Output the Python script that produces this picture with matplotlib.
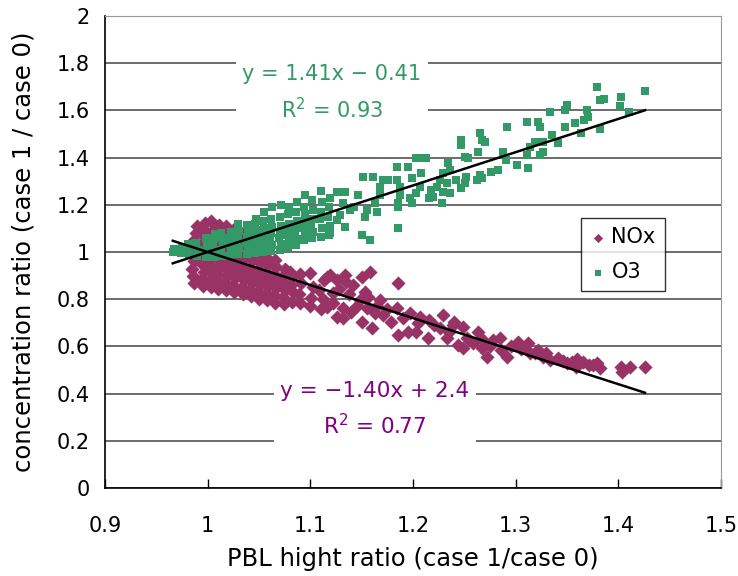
import matplotlib
matplotlib.use("Agg")
import matplotlib.pyplot as plt

# NOx points (PBL height ratio, concentration ratio)
nox_pts = [
    (0.987, 0.870), (0.986, 0.900), (0.985, 0.930), (0.987, 0.960), (0.986, 0.990),
    (0.988, 1.020), (0.987, 1.050), (0.989, 1.080), (0.990, 1.110),
    (0.995, 0.855), (0.994, 0.885), (0.996, 0.915), (0.995, 0.945), (0.994, 0.975),
    (0.996, 1.005), (0.995, 1.035), (0.997, 1.065), (0.996, 1.095), (0.997, 1.125),
    (1.003, 0.850), (1.002, 0.880), (1.004, 0.910), (1.003, 0.940), (1.002, 0.970),
    (1.004, 1.000), (1.003, 1.030), (1.002, 1.060), (1.004, 1.090), (1.003, 1.130),
    (1.010, 0.845), (1.011, 0.875), (1.009, 0.905), (1.010, 0.935), (1.011, 0.965),
    (1.010, 0.995), (1.009, 1.025), (1.011, 1.055), (1.010, 1.085), (1.011, 1.115),
    (1.018, 0.838), (1.017, 0.868), (1.019, 0.898), (1.018, 0.928), (1.017, 0.958),
    (1.019, 0.988), (1.018, 1.018), (1.017, 1.048), (1.019, 1.078), (1.018, 1.110),
    (1.026, 0.830), (1.025, 0.860), (1.027, 0.890), (1.026, 0.920), (1.025, 0.950),
    (1.027, 0.980), (1.026, 1.010), (1.025, 1.040), (1.027, 1.070), (1.026, 1.098),
    (1.034, 0.822), (1.033, 0.852), (1.035, 0.882), (1.034, 0.912), (1.033, 0.942),
    (1.035, 0.972), (1.034, 1.002), (1.033, 1.032), (1.035, 1.075),
    (1.042, 0.814), (1.041, 0.844), (1.043, 0.874), (1.042, 0.904), (1.041, 0.934),
    (1.043, 0.964), (1.042, 0.994), (1.041, 1.060),
    (1.050, 0.802), (1.049, 0.832), (1.051, 0.862), (1.050, 0.892), (1.049, 0.922),
    (1.051, 0.952), (1.050, 0.982),
    (1.058, 0.796), (1.057, 0.826), (1.059, 0.856), (1.058, 0.886), (1.057, 0.916),
    (1.059, 0.946), (1.058, 0.976),
    (1.066, 0.786), (1.065, 0.816), (1.067, 0.846), (1.066, 0.876), (1.065, 0.906),
    (1.067, 0.936), (1.066, 0.966),
    (1.074, 0.780), (1.073, 0.810), (1.075, 0.840), (1.074, 0.870), (1.073, 0.900),
    (1.075, 0.930),
    (1.082, 0.790), (1.083, 0.830), (1.081, 0.860), (1.082, 0.895), (1.080, 0.917),
    (1.090, 0.782), (1.089, 0.820), (1.091, 0.868), (1.090, 0.905),
    (1.100, 0.770), (1.101, 0.805), (1.103, 0.853), (1.100, 0.910),
    (1.110, 0.760), (1.112, 0.800), (1.108, 0.840), (1.113, 0.880),
    (1.116, 0.768), (1.116, 0.895), (1.122, 0.825), (1.126, 0.726),
    (1.119, 0.903), (1.134, 0.903), (1.126, 0.881), (1.135, 0.874), (1.150, 0.895),
    (1.158, 0.917), (1.185, 0.868), (1.122, 0.782), (1.132, 0.761), (1.132, 0.720),
    (1.140, 0.745), (1.148, 0.797), (1.156, 0.811), (1.168, 0.797), (1.155, 0.761),
    (1.150, 0.705), (1.160, 0.677), (1.163, 0.741), (1.171, 0.733), (1.179, 0.705),
    (1.184, 0.761), (1.185, 0.648), (1.197, 0.741), (1.195, 0.662), (1.207, 0.726),
    (1.203, 0.662), (1.215, 0.636), (1.216, 0.712), (1.229, 0.733), (1.226, 0.677),
    (1.233, 0.636), (1.239, 0.691), (1.249, 0.684), (1.244, 0.606), (1.249, 0.593),
    (1.253, 0.636), (1.263, 0.662), (1.268, 0.627), (1.267, 0.593), (1.272, 0.556),
    (1.278, 0.627), (1.285, 0.636), (1.286, 0.585), (1.292, 0.556), (1.302, 0.620),
    (1.312, 0.614), (1.314, 0.572), (1.322, 0.585), (1.327, 0.556), (1.333, 0.542),
    (1.341, 0.551), (1.350, 0.530), (1.359, 0.514), (1.366, 0.535), (1.379, 0.530),
    (1.382, 0.508), (1.403, 0.514), (1.404, 0.493), (1.411, 0.514), (1.426, 0.514),
    (1.319, 0.572), (1.346, 0.540), (1.371, 0.520),
    (1.128, 0.845), (1.138, 0.820), (1.145, 0.770), (1.142, 0.860), (1.153, 0.830),
    (1.165, 0.770), (1.175, 0.760), (1.190, 0.720), (1.205, 0.700), (1.220, 0.690),
    (1.235, 0.660), (1.240, 0.705), (1.258, 0.615), (1.275, 0.600), (1.295, 0.600),
    (1.305, 0.590), (1.330, 0.570), (1.355, 0.535), (1.360, 0.545), (1.375, 0.520),
]

# O3 points
o3_pts = [
    (0.966, 1.000), (0.967, 1.012), (0.974, 0.995), (0.975, 1.015),
    (0.982, 0.990), (0.983, 1.020), (0.981, 1.035),
    (0.990, 0.985), (0.991, 1.010), (0.989, 1.040),
    (0.998, 0.980), (0.997, 1.005), (0.999, 1.030), (0.998, 1.060),
    (1.006, 0.980), (1.007, 1.005), (1.005, 1.030), (1.006, 1.055), (1.007, 1.075),
    (1.014, 0.985), (1.013, 1.010), (1.015, 1.035), (1.014, 1.060), (1.013, 1.080),
    (1.022, 0.985), (1.023, 1.010), (1.021, 1.035), (1.022, 1.060), (1.023, 1.085),
    (1.030, 0.990), (1.031, 1.015), (1.029, 1.040), (1.030, 1.065), (1.031, 1.090),
    (1.030, 1.120),
    (1.038, 0.990), (1.039, 1.015), (1.037, 1.040), (1.038, 1.065), (1.039, 1.090),
    (1.038, 1.115),
    (1.046, 0.995), (1.047, 1.020), (1.045, 1.045), (1.046, 1.070), (1.047, 1.095),
    (1.046, 1.120), (1.047, 1.140),
    (1.054, 1.000), (1.055, 1.025), (1.053, 1.050), (1.054, 1.075), (1.055, 1.100),
    (1.054, 1.130), (1.055, 1.170),
    (1.062, 1.005), (1.063, 1.030), (1.061, 1.055), (1.062, 1.080), (1.063, 1.105),
    (1.062, 1.140), (1.063, 1.190),
    (1.070, 1.010), (1.071, 1.035), (1.069, 1.060), (1.070, 1.085), (1.071, 1.110),
    (1.070, 1.150), (1.071, 1.200),
    (1.078, 1.020), (1.079, 1.045), (1.077, 1.070), (1.078, 1.095), (1.079, 1.120),
    (1.078, 1.160), (1.079, 1.190),
    (1.086, 1.030), (1.087, 1.055), (1.085, 1.080), (1.086, 1.105), (1.087, 1.130),
    (1.086, 1.170), (1.087, 1.210),
    (1.094, 1.050), (1.095, 1.075), (1.093, 1.100), (1.094, 1.130), (1.095, 1.160),
    (1.094, 1.190), (1.095, 1.240),
    (1.102, 1.060), (1.103, 1.085), (1.101, 1.110), (1.102, 1.140), (1.103, 1.180),
    (1.102, 1.220),
    (1.110, 1.065), (1.111, 1.100), (1.109, 1.140), (1.110, 1.170), (1.111, 1.210),
    (1.110, 1.260),
    (1.118, 1.070), (1.119, 1.110), (1.117, 1.150), (1.118, 1.190), (1.119, 1.230),
    (1.119, 1.081), (1.126, 1.256), (1.134, 1.256), (1.129, 1.157), (1.126, 1.136),
    (1.134, 1.107), (1.150, 1.072), (1.158, 1.051), (1.132, 1.208), (1.139, 1.178),
    (1.143, 1.192), (1.146, 1.242), (1.153, 1.150), (1.155, 1.178), (1.165, 1.171),
    (1.163, 1.208), (1.168, 1.242), (1.151, 1.319), (1.161, 1.319), (1.168, 1.277),
    (1.171, 1.305), (1.176, 1.305), (1.185, 1.102), (1.185, 1.192), (1.185, 1.208),
    (1.199, 1.208), (1.197, 1.229), (1.187, 1.242), (1.187, 1.277), (1.184, 1.305),
    (1.184, 1.362), (1.195, 1.362), (1.203, 1.250), (1.207, 1.277), (1.199, 1.313),
    (1.208, 1.335), (1.203, 1.398), (1.208, 1.398), (1.213, 1.398), (1.216, 1.229),
    (1.228, 1.208), (1.219, 1.234), (1.218, 1.263), (1.223, 1.277), (1.229, 1.256),
    (1.236, 1.250), (1.233, 1.292), (1.226, 1.305), (1.229, 1.335), (1.236, 1.347),
    (1.234, 1.377), (1.242, 1.305), (1.247, 1.271), (1.251, 1.292), (1.252, 1.319),
    (1.262, 1.305), (1.267, 1.313), (1.265, 1.326), (1.254, 1.398), (1.251, 1.404),
    (1.247, 1.453), (1.247, 1.475), (1.263, 1.425), (1.270, 1.468), (1.265, 1.504),
    (1.267, 1.475), (1.276, 1.340), (1.283, 1.347), (1.288, 1.425), (1.291, 1.390),
    (1.301, 1.369), (1.312, 1.356), (1.311, 1.411), (1.324, 1.411), (1.327, 1.425),
    (1.314, 1.446), (1.319, 1.468), (1.327, 1.468), (1.341, 1.462), (1.335, 1.496),
    (1.292, 1.531), (1.311, 1.552), (1.324, 1.531), (1.322, 1.552), (1.364, 1.504),
    (1.382, 1.521), (1.358, 1.546), (1.348, 1.531), (1.367, 1.559), (1.370, 1.573),
    (1.369, 1.602), (1.333, 1.593), (1.348, 1.602), (1.350, 1.623), (1.410, 1.595),
    (1.402, 1.619), (1.403, 1.658), (1.382, 1.644), (1.386, 1.648), (1.379, 1.700),
    (1.426, 1.682),
]

nox_x = [p[0] for p in nox_pts]
nox_y = [p[1] for p in nox_pts]
o3_x = [p[0] for p in o3_pts]
o3_y = [p[1] for p in o3_pts]

# linear trendlines as shown on the chart
o3_slope, o3_icpt = 1.41, -0.41
nox_slope, nox_icpt = -1.40, 2.40
o3_label = "y = 1.41x \u2212 0.41\nR$^2$ = 0.93"
nox_label = "y = \u22121.40x + 2.4\nR$^2$ = 0.77"

nox_col = "#993366"
o3_col = "#339966"

fig = plt.figure(figsize=(7.38, 5.76), dpi=100)
ax = fig.add_axes([105 / 738, 88 / 576, 616 / 738, 472 / 576])

ax.set_xlim(0.9, 1.5)
ax.set_ylim(0, 2)
xt = [0.9, 1.0, 1.1, 1.2, 1.3, 1.4, 1.5]
yt = [0, 0.2, 0.4, 0.6, 0.8, 1.0, 1.2, 1.4, 1.6, 1.8, 2.0]
ax.set_xticks(xt)
ax.set_yticks(yt)
ax.set_xticklabels(["{:g}".format(v) for v in xt], fontsize=15)
ax.set_yticklabels(["{:g}".format(v) for v in yt], fontsize=15)
ax.tick_params(axis="x", direction="in", length=6.5, width=1, pad=20)
ax.tick_params(axis="y", length=0, pad=11)
ax.yaxis.grid(True, color="#444444", lw=1.1)
ax.set_axisbelow(True)
for s in ["top", "right"]:
    ax.spines[s].set_color("#999999")
for s in ["left", "bottom"]:
    ax.spines[s].set_color("black")
    ax.spines[s].set_linewidth(1.2)

ax.scatter(nox_x, nox_y, marker="D", s=52, color=nox_col, linewidths=0,
           label="NOx", zorder=3)
ax.scatter(o3_x, o3_y, marker="s", s=38, color=o3_col, linewidths=0,
           label="O3", zorder=3)

# trendlines span the x range of all the data
x0 = min(nox_x + o3_x)
x1 = max(nox_x + o3_x)
ax.plot([x0, x1], [o3_slope * x0 + o3_icpt, o3_slope * x1 + o3_icpt],
        color="black", lw=1.8, zorder=4)
ax.plot([x0, x1], [nox_slope * x0 + nox_icpt, nox_slope * x1 + nox_icpt],
        color="black", lw=1.8, zorder=4)

ax.text(1.121, 1.674, o3_label, color=o3_col, fontsize=15, ha="center",
        va="center", multialignment="center", linespacing=1.6, zorder=5,
        bbox=dict(boxstyle="square,pad=0.3", fc="white", ec="none"))
ax.text(1.163, 0.333, nox_label, color="#800080", fontsize=15.5, ha="center",
        va="center", multialignment="center", linespacing=1.55, zorder=5,
        bbox=dict(boxstyle="square,pad=0.3", fc="white", ec="none"))

leg = ax.legend(loc="upper left", bbox_to_anchor=(0.773, 0.572),
                borderaxespad=0, fontsize=15, frameon=True, fancybox=False,
                edgecolor="black", labelspacing=0.7, borderpad=0.45,
                handlelength=0.7, handletextpad=0.3, markerscale=0.65)
leg.get_frame().set_linewidth(1.0)
leg.set_zorder(6)

ax.set_xlabel("PBL hight ratio (case 1/case 0)", fontsize=17.5, labelpad=8)
ax.set_ylabel("concentration ratio (case 1 / case 0)", fontsize=17.5, labelpad=15)

fig.savefig("out.png", dpi=100)
